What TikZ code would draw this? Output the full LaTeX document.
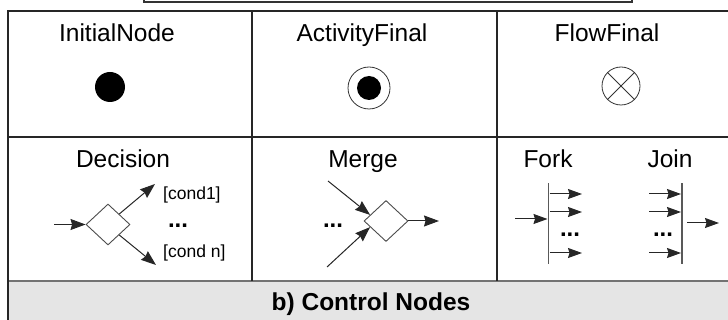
\documentclass[tikz,border=0pt]{standalone}
\usepackage{fontspec}
\setmainfont{Liberation Sans}
\usetikzlibrary{arrows.meta,shapes.geometric}
\begin{document}
\begin{tikzpicture}[x=1pt,y=-1pt,
  lbl/.style={font=\fontsize{24.5}{28}\selectfont, anchor=base, inner sep=0},
  cnd/.style={font=\fontsize{17.5}{20}\selectfont, inner sep=0, anchor=west},
  dots/.style={font=\bfseries\fontsize{24}{26}\selectfont, inner sep=0},
  gridline/.style={draw=black!85, line width=1.1pt},
  arr/.style={draw=black!85, line width=1pt, -{Stealth[length=15pt,width=11pt,inset=1.5pt]}},
  sarr/.style={draw=black!85, line width=1pt, -{Stealth[length=14pt,width=10pt,inset=1.5pt]}},
  dia/.style={diamond, draw=black!70, line width=0.9pt, minimum width=44pt, minimum height=41pt, inner sep=0, fill=white},
  bar/.style={draw=none, fill=black!65, minimum width=1.6pt, minimum height=81pt, inner sep=0},
]
\useasboundingbox (0,0) rectangle (728,320);
% top partial box
\draw[black!80, line width=1.2pt] (144,-10) -- (144,2) -- (632,2) -- (632,-10);
% gray band
\fill[black!10] (8,281) rectangle (730,322);
\draw[black!55, line width=1.6pt] (8,281) -- (730,281);
% table lines
\draw[gridline] (8,322) -- (8,11) -- (730,11);
\draw[gridline] (8,137) -- (730,137);
\draw[gridline] (252,11) -- (252,281);
\draw[gridline] (497,11) -- (497,281);

% labels
\node[lbl] (tInit) at (117,42) {InitialNode};
\node[lbl] (tAct) at (362,42) {ActivityFinal};
\node[lbl] (tFlow) at (607,42) {FlowFinal};
\node[lbl] (tDec) at (123,168) {Decision};
\node[lbl] (tMrg) at (363,168) {Merge};
\node[lbl] (tFork) at (548,168) {Fork};
\node[lbl] (tJoin) at (670,168) {Join};
\node[lbl, font=\bfseries\fontsize{24.5}{28}\selectfont] (tCap) at (371,311) {b) Control Nodes};

% initial
\node[circle, fill=black, minimum size=30pt, inner sep=0] (init) at (110,87) {};
% activity final
\node[circle, draw=black!80, line width=0.8pt, minimum size=42pt, inner sep=0] (af) at (369,88) {};
\node[circle, fill=black, minimum size=24pt, inner sep=0] (afin) at (af) {};
% flow final
\node[circle, draw=black!80, line width=0.8pt, minimum size=38pt, inner sep=0] (ff) at (621,86) {};
\draw[black!80, line width=0.8pt] (ff.45) -- (ff.225) (ff.135) -- (ff.315);

% decision
\node[dia] (dec) at (108,224.5) {};
\coordinate (decin) at (54,224.5);
\coordinate (decup) at (155,184);
\coordinate (decdn) at (156,265);
\draw[arr] (decin) -- (dec.west);
\draw[arr] (dec.north east) -- (decup);
\draw[arr] (dec.south east) -- (decdn);
\node[cnd] (c1) at (163,195) {[cond1]};
\node[cnd] (cn) at (163,253) {[cond n]};
\node[dots] (ddots) at (178,226) {...};

% merge
\node[dia] (mrg) at (386,221) {};
\coordinate (min1) at (328,181);
\coordinate (min2) at (327,267);
\coordinate (mout) at (439,221);
\draw[arr] (min1) -- (mrg.159);
\draw[arr] (min2) -- (mrg.201);
\draw[arr] (mrg.east) -- (mout);
\node[dots] (mdots) at (333,226) {...};

% fork
\node[bar] (fork) at (548.5,223.5) {};
\coordinate (fin) at (515,219);
\coordinate (fo1) at (582,194);
\coordinate (fo2) at (582,212);
\coordinate (fo3) at (582,253);
\draw[sarr] (fin) -- (fork.west |- fin);
\draw[sarr] (fork.east |- fo1) -- (fo1);
\draw[sarr] (fork.east |- fo2) -- (fo2);
\draw[sarr] (fork.east |- fo3) -- (fo3);
\node[dots] (fdots) at (570,235) {...};

% join
\node[bar] (join) at (682,223.5) {};
\coordinate (ji1) at (649,194);
\coordinate (ji2) at (649,212);
\coordinate (ji3) at (649,253);
\coordinate (js) at (687,223);
\coordinate (jo) at (719,223);
\draw[sarr] (ji1) -- (join.west |- ji1);
\draw[sarr] (ji2) -- (join.west |- ji2);
\draw[sarr] (ji3) -- (join.west |- ji3);
\draw[sarr] (js) -- (jo);
\node[dots] (jdots) at (663,235) {...};
\end{tikzpicture}
\end{document}
